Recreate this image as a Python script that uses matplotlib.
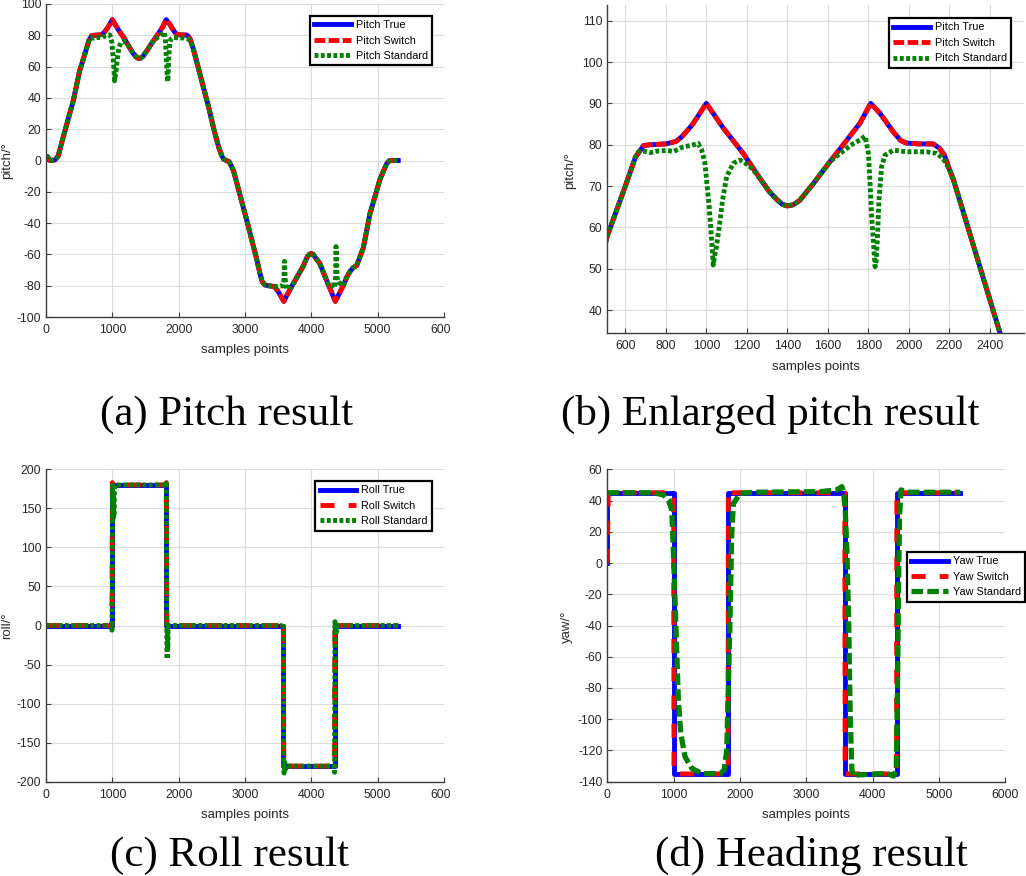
import matplotlib
matplotlib.use("Agg")
import matplotlib.pyplot as plt
from matplotlib.transforms import Bbox, TransformedBbox

# ---------------- data ----------------
pitch_true_x = [0, 20, 60, 135, 185, 260, 410, 510, 600, 650, 690, 720, 800, 850, 880, 930, 1000,
                1084, 1182, 1264, 1310, 1347, 1375, 1400, 1430, 1462, 1528, 1610, 1693, 1758, 1811,
                1857, 1923, 1960, 1988, 2050, 2120, 2150, 2175, 2200, 2220, 2285, 2350, 2450, 2530,
                2600, 2650, 2680, 2720, 2760, 2800, 2830, 3025, 3176, 3230, 3260, 3300, 3350, 3440,
                3490, 3585, 3640, 3697, 3874, 3940, 3975, 4000, 4030, 4060, 4126, 4253, 4362, 4480,
                4530, 4581, 4630, 4682, 4720, 4783, 4884, 5035, 5136, 5170, 5200, 5310]
pitch_true_y = [2, 2.5, 0, 0.3, 3, 15, 38, 57.8, 70, 77, 79.8, 80, 80.2, 80.8, 82, 84.8, 90,
                84, 77.9, 71.9, 68.7, 66.8, 65.6, 65.2, 65.5, 66.6, 70.6, 75.9, 81.1, 85.2, 90,
                87.6, 83.1, 81, 80.4, 80.2, 80.2, 79.2, 77.5, 74, 71.5, 61, 50.5, 34.4, 20,
                9, 3, 0.8, 0, -0.8, -4, -7, -38, -63, -73, -77.5, -79.5, -80, -80.5,
                -83, -90, -85.5, -81, -67.8, -61.5, -59.8, -59.5, -60, -62, -65.6, -79, -90, -80,
                -75, -71, -68.5, -67.2, -63, -56, -34, -12, -2, -0.3, 0, 0]
pitch_switch_x = list(pitch_true_x)
pitch_switch_y = list(pitch_true_y)
pitch_std_x = [0, 20, 60, 135, 185, 260, 410, 510, 600, 650, 665, 700, 722, 760, 804, 840, 886, 920,
               945, 960, 968, 977, 993, 1001, 1014, 1026, 1034, 1040, 1047, 1064, 1080, 1100, 1133,
               1166, 1207, 1232, 1264, 1310, 1347, 1375, 1400, 1430, 1462, 1528, 1610, 1660, 1726,
               1760, 1783, 1791, 1800, 1808, 1816, 1833, 1838, 1844, 1852, 1865, 1882, 1923, 1988,
               2087, 2136, 2169, 2200, 2220, 2285, 2350, 2450, 2530, 2600, 2650, 2680, 2720, 2760,
               2800, 2830, 3025, 3176, 3230, 3260, 3300, 3350, 3440, 3490, 3540, 3571, 3585, 3596,
               3605, 3620, 3646, 3697, 3874, 3940, 3975, 4000, 4030, 4060, 4126, 4253, 4303, 4328,
               4350, 4364, 4372, 4380, 4392, 4404, 4430, 4480, 4530, 4581, 4630, 4682, 4720, 4783,
               4884, 5035, 5136, 5170, 5200, 5310]
pitch_std_y = [2, 2.5, 0, 0.3, 3, 15, 38, 57.8, 70, 77, 78.3, 78.4, 78.1, 78.5, 78.6, 78.4, 79.5, 79.8,
               80.1, 80.3, 79.5, 78.7, 75.5, 71.5, 65, 56.9, 50.9, 53, 54.5, 60.2, 66.6, 72.3, 75.5,
               76.3, 75.1, 73.9, 71.9, 68.7, 66.8, 65.6, 65.2, 65.5, 66.6, 70.6, 75.9, 77.9, 80.3,
               81.2, 82.1, 80.3, 77.9, 70.6, 62.6, 50.5, 52, 57, 66.6, 74.7, 77.5, 78.7, 78.3,
               78.3, 77.9, 76.7, 74, 71.5, 61, 50.5, 34.4, 20, 9, 3, 0.8, 0, -0.8,
               -4, -7, -38, -63, -73, -77.5, -79.5, -80, -80.5, -80.5, -80.2, -80, -78, -64.4,
               -75, -82, -81, -81, -67.8, -61.5, -59.8, -59.5, -60, -62, -65.6, -79, -79.3, -81.5,
               -80.4, -78, -55, -62, -77, -77, -78.5, -80, -75, -71, -68.5, -67.2, -63, -56,
               -34, -12, -2, -0.3, 0, 0]

roll_true_x = [0, 1000, 1000, 1815, 1815, 3580, 3580, 4355, 4355, 5310]
roll_true_y = [0, 0, 180, 180, 0, 0, -180, -180, 0, 0]
roll_switch_x = [0, 995, 1000, 1008, 1810, 1815, 1822, 3575, 3580, 3585, 4350, 4355, 4362, 5310]
roll_switch_y = [0, 0, 183, 180, 180, 183, 0, 0, 4, -180, -180, 5, 0, 0]
roll_std_x = [0, 990, 995, 1000, 1005, 1012, 1018, 1024, 1032, 1040, 1100, 1810, 1815, 1820, 1826,
              1832, 1836, 1842, 1850, 1900, 3570, 3578, 3582, 3590, 3600, 3610, 3640, 4340, 4350,
              4356, 4362, 4370, 4380, 4400, 5310]
roll_std_y = [0, 0, -6, 60, 180, 135, 170, 140, 175, 180, 180, 180, 182, 0, -43, -5, -30, -2, 0, 0,
              0, 3, -185, -189, -175, -184, -180, -180, -188, 5, -3, 3, -8, 0, 0]

yaw_true_x = [0, 0, 1005, 1005, 1825, 1825, 3585, 3585, 4365, 4365, 5310]
yaw_true_y = [0, 45, 45, -135, -135, 45, 45, -135, -135, 45, 45]
yaw_switch_x = [0, 15, 1000, 1005, 1100, 1820, 1825, 1835, 3580, 3585, 3640, 4360, 4365, 4380, 5310]
yaw_switch_y = [0, 45, 45, -135, -135, -135, 47, 45, 45, -135, -135, -135, 47, 45, 45]
yaw_std_x = [0, 694, 845, 920, 971, 996, 1021, 1046, 1071, 1107, 1172, 1273, 1424, 1700, 1761, 1801,
             1826, 1851, 1876, 1901, 2002, 2203, 3209, 3461, 3536, 3561, 3587, 3612, 3637, 3662,
             3687, 3712, 3763, 4215, 4316, 4356, 4376, 4391, 4406, 4426, 4467, 4567, 5322]
yaw_std_y = [45, 45, 43.6, 40.4, 34, 8.3, -23.7, -55.7, -87.7, -109, -124, -131.5, -134.7, -135,
             -132.5, -119.7, -77, -34, 19, 38, 44.6, 45.3, 45.7, 46.8, 48.9, 45.7, 34, 8.3, -34.3,
             -98.4, -132.5, -136.8, -135.7, -134.7, -136.4, -132.5, -77, -13, 29.7, 46.8, 46.3,
             45.3, 45.3]

captions = ["(a) Pitch result", "(b) Enlarged pitch result", "(c) Roll result", "(d) Heading result"]

# ---------------- style ----------------
plt.rcParams['font.family'] = ['Liberation Sans', 'DejaVu Sans']
plt.rcParams['axes.unicode_minus'] = False
TXT = '#262626'
BLUE, RED, GREEN = '#0000ff', '#ff0000', '#008000'
LW = 3.5

fig = plt.figure(figsize=(10.26, 8.76), dpi=100)
W, H = 1026.0, 876.0


def make_ax(x0, y0, x1, y1):
    return fig.add_axes([x0 / W, 1 - y1 / H, (x1 - x0) / W, (y1 - y0) / H])


def style(ax, xlim, ylim, xt, yt, ylabel, ylab_xy):
    ax.set_xlim(*xlim)
    ax.set_ylim(*ylim)
    ax.set_xticks(xt)
    ax.set_yticks(yt)
    ax.grid(True, color='#dcdcdc', lw=0.8)
    ax.set_axisbelow(True)
    for s in ['top', 'right']:
        ax.spines[s].set_visible(False)
    for s in ['left', 'bottom']:
        ax.spines[s].set_color('#3c3c3c')
        ax.spines[s].set_linewidth(1.0)
    ax.tick_params(axis='both', direction='in', length=3.5, width=0.8, colors='#3c3c3c',
                   labelcolor=TXT, labelsize=8.8)
    ax.tick_params(axis='x', pad=5.0)
    ax.tick_params(axis='y', pad=3.5)
    ax.set_xlabel('samples points', fontsize=9.5, color=TXT, labelpad=6)
    ax.set_ylabel(ylabel, fontsize=9.5, color=TXT)
    ax.yaxis.set_label_coords(*ylab_xy)


def legend(ax, loc, anchor):
    leg = ax.legend(loc=loc, bbox_to_anchor=anchor, borderaxespad=0,
                    fontsize=7.8, frameon=True, fancybox=False, framealpha=1,
                    edgecolor='black', handlelength=3.4, handletextpad=0.45,
                    labelspacing=0.5, borderpad=0.4)
    leg.get_frame().set_linewidth(1.6)
    return leg


# (a) pitch
axa = make_ax(46, 4, 444, 317)
axa.plot(pitch_true_x, pitch_true_y, color=BLUE, lw=LW, label='Pitch True')
axa.plot(pitch_switch_x, pitch_switch_y, color=RED, lw=LW, dashes=(2.2, 0.7), label='Pitch Switch')
axa.plot(pitch_std_x, pitch_std_y, color=GREEN, lw=LW, dashes=(0.8, 0.5), label='Pitch Standard')
style(axa, (0, 6000), (-100, 100), range(0, 6001, 1000), range(-100, 101, 20), 'pitch/°', (-0.083, 0.5))
legend(axa, 'upper right', (0.970, 0.962))

# (b) enlarged pitch
axb = make_ax(607.3, 5, 1024, 333.3)
axb.plot(pitch_true_x, pitch_true_y, color=BLUE, lw=LW, label='Pitch True')
axb.plot(pitch_switch_x, pitch_switch_y, color=RED, lw=LW, dashes=(2.2, 0.7), label='Pitch Switch')
axb.plot(pitch_std_x, pitch_std_y, color=GREEN, lw=LW, dashes=(0.8, 0.5), label='Pitch Standard')
style(axb, (511, 2568), (34.4, 113.8), range(600, 2401, 200), range(40, 111, 10), 'pitch/°', (-0.074, 0.497))
legend(axb, 'upper right', (0.969, 0.960))

# (c) roll
axc = make_ax(46, 469.3, 444, 781.7)
axc.plot(roll_true_x, roll_true_y, color=BLUE, lw=LW, label='Roll True')
axc.plot(roll_switch_x, roll_switch_y, color=RED, lw=LW, dashes=(2.9, 2.9), label='Roll Switch')
axc.plot(roll_std_x, roll_std_y, color=GREEN, lw=LW, dashes=(0.8, 0.5), label='Roll Standard')
style(axc, (0, 6000), (-200, 200), range(0, 6001, 1000), range(-200, 201, 50), 'roll/°', (-0.083, 0.5))
legend(axc, 'upper right', (0.970, 0.9625))

# (d) yaw
axd = make_ax(607.3, 469.3, 1005.3, 781.7)
axd.plot(yaw_true_x, yaw_true_y, color=BLUE, lw=LW, label='Yaw True')
axd.plot(yaw_switch_x, yaw_switch_y, color=RED, lw=LW, dashes=(2.9, 2.9), label='Yaw Switch')
axd.plot(yaw_std_x, yaw_std_y, color=GREEN, lw=3.8, dashes=(2.2, 0.8), label='Yaw Standard')
style(axd, (0, 6000), (-140, 60), range(0, 6001, 1000), range(-140, 61, 20), 'yaw/°', (-0.086, 0.496))
legend(axd, 'upper right', (1.050, 0.735))

# clip the right-most tick label of the left column at the panel edge, as in the reference
clipbox = TransformedBbox(Bbox([[0, 0], [450 / W, 1]]), fig.transFigure)
for ax in (axa, axc):
    for lbl in ax.get_xticklabels():
        lbl.set_clip_box(clipbox)
        lbl.set_clip_on(True)

# captions
cap_pos = [(227, 425), (770, 425), (229, 866), (811, 866)]
for (cx, cy), txt in zip(cap_pos, captions):
    fig.text(cx / W, 1 - cy / H, txt, ha='center', va='baseline', fontsize=31,
             family='Liberation Serif', color='black')

fig.savefig('out.png', dpi=100)
